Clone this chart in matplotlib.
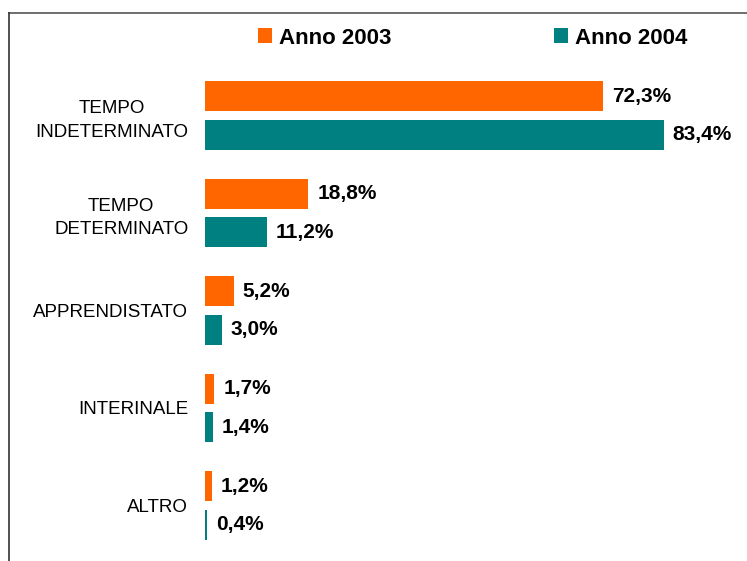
import matplotlib.pyplot as plt
from matplotlib.lines import Line2D
import numpy as np

plt.rcParams['font.family'] = ['Liberation Sans', 'DejaVu Sans']

categories = ["TEMPO\nINDETERMINATO", "TEMPO\nDETERMINATO", "APPRENDISTATO", "INTERINALE", "ALTRO"]
anno_2003 = [72.3, 18.8, 5.2, 1.7, 1.2]
anno_2004 = [83.4, 11.2, 3.0, 1.4, 0.4]
series_names = ["Anno 2003", "Anno 2004"]
colors = ["#FF6600", "#008080"]

W, H = 747, 561
fig = plt.figure(figsize=(W / 100, H / 100), dpi=100)

# axes placed in pixel units
left, right = 205, 747
top, bottom = 66.75, 554.25
ax = fig.add_axes([left / W, 1 - bottom / H, (right - left) / W, (bottom - top) / H])

y = np.arange(len(categories))
off = 0.197
h = 0.31
b1 = ax.barh(y - off, anno_2003, height=h, color=colors[0], label=series_names[0])
b2 = ax.barh(y + off, anno_2004, height=h, color=colors[1], label=series_names[1])

for bars, vals in [(b1, anno_2003), (b2, anno_2004)]:
    for bar, v in zip(bars, vals):
        ax.annotate(f"{v:.1f}%".replace(".", ","),
                    xy=(bar.get_width(), bar.get_y() + bar.get_height() / 2),
                    xytext=(6.5, 0), textcoords="offset points",
                    ha="left", va="center", fontsize=15, fontweight="bold")

ax.set_xlim(0, (right - left) / 5.5)
ax.set_ylim(len(categories) - 0.5, -0.5)
ax.set_yticks(y)
ax.set_yticklabels(categories, fontsize=13.5, multialignment="center", linespacing=1.5)
ax.tick_params(axis="y", length=0, pad=12)
ax.set_xticks([])
for s in ax.spines.values():
    s.set_visible(False)

leg = ax.legend(loc="center left", bbox_to_anchor=(258 / W, 1 - 38 / H),
                bbox_transform=fig.transFigure, ncol=2, frameon=False,
                borderpad=0, borderaxespad=0, handlelength=0.63, handleheight=0.63,
                handletextpad=0.32, columnspacing=7.3,
                prop={"size": 16, "weight": "bold"})

# frame lines (top and left)
fig.add_artist(Line2D([9 / W, 1], [1 - 13 / H, 1 - 13 / H], color="#555555", lw=1.2,
                      transform=fig.transFigure))
fig.add_artist(Line2D([9 / W, 9 / W], [0, 1 - 13 / H], color="#333333", lw=1.2,
                      transform=fig.transFigure))

fig.savefig("out.png", dpi=100)
